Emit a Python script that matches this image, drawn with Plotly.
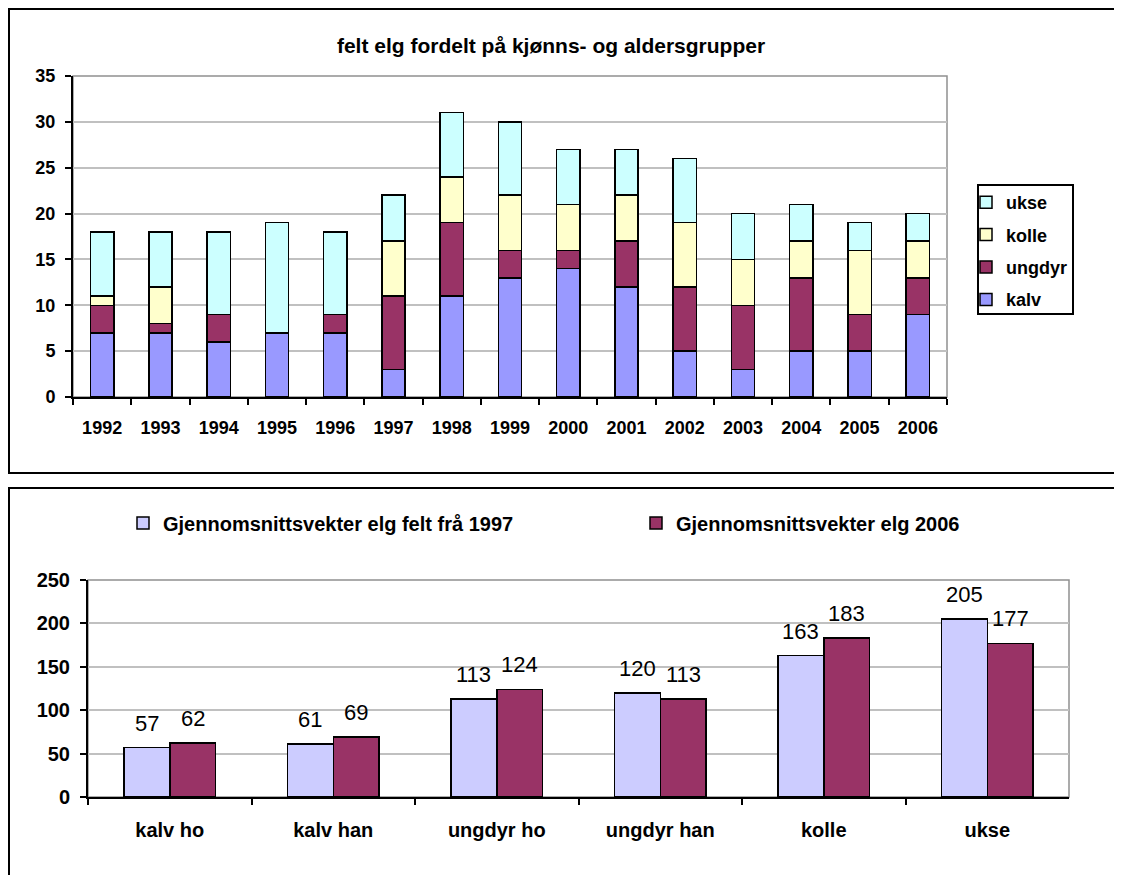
import plotly.graph_objects as go

# ---- data: top chart (stacked counts) ----
years = [str(y) for y in range(1992, 2007)]
kalv = [7, 7, 6, 7, 7, 3, 11, 13, 14, 12, 5, 3, 5, 5, 9]
ungdyr = [3, 1, 3, 0, 2, 8, 8, 3, 2, 5, 7, 7, 8, 4, 4]
kolle = [1, 4, 0, 0, 0, 6, 5, 6, 5, 5, 7, 5, 4, 7, 4]
ukse = [7, 6, 9, 12, 9, 5, 7, 8, 6, 5, 7, 5, 4, 3, 3]

# ---- data: bottom chart (average weights) ----
groups = ["kalv ho", "kalv han", "ungdyr ho", "ungdyr han", "kolle", "ukse"]
w1997 = [57, 61, 113, 120, 163, 205]
w2006 = [62, 69, 124, 113, 183, 177]

# page has an 8px body margin; figure sized to fit the 1122x875 window
OFF = 8
W, H = 1122 - OFF, 875 - OFF
def px(x): return (x - OFF) / W
def py(y): return 1 - (y - OFF) / H

FONT = "Liberation Sans, Arial, sans-serif"
OUT = dict(color="black", width=1.5)

fig = go.Figure()

top_series = [("kalv", kalv, "#9999FF"), ("ungdyr", ungdyr, "#993366"),
              ("kolle", kolle, "#FFFFCC"), ("ukse", ukse, "#CCFFFF")]
n_top = len(top_series)
for i, (name, vals, col) in enumerate(top_series):
    fig.add_trace(go.Bar(x=years, y=vals, name=name, width=0.4, offsetgroup="top",
                         marker=dict(color=col, line=OUT), xaxis="x", yaxis="y",
                         legend="legend", legendgroup=name, legendrank=n_top - i))

fig.add_trace(go.Bar(x=groups, y=w1997, name="Gjennomsnittsvekter elg felt frå 1997",
                     offsetgroup="a", marker=dict(color="#CCCCFF", line=OUT),
                     xaxis="x2", yaxis="y2", legend="legend2"))
fig.add_trace(go.Bar(x=groups, y=w2006, name="Gjennomsnittsvekter elg 2006",
                     offsetgroup="b", marker=dict(color="#993366", line=OUT),
                     xaxis="x2", yaxis="y2", legend="legend3"))

# data labels for bottom chart
barpx = (1069 - 88) / 6 * 0.56 / 2
annotations = []
for vals, sh in ((w1997, -barpx / 2), (w2006, barpx / 2)):
    for g, v in zip(groups, vals):
        annotations.append(dict(x=g, y=v, xref="x2", yref="y2", text=str(v),
                                showarrow=False, xshift=sh, yshift=10, yanchor="bottom",
                                font=dict(family=FONT, size=22, color="black")))

shapes = [
    # outer chart borders
    dict(type="rect", xref="paper", yref="paper", x0=px(9), x1=1.02, y0=py(473), y1=py(9),
         line=dict(color="black", width=2), layer="below"),
    dict(type="rect", xref="paper", yref="paper", x0=px(9), x1=1.02, y0=-0.05, y1=py(488),
         line=dict(color="black", width=2), layer="below"),
    # plot-area frames (grey)
    dict(type="rect", xref="paper", yref="paper", x0=px(73), x1=px(947), y0=py(397), y1=py(76),
         line=dict(color="#909090", width=1.5), layer="below"),
    dict(type="rect", xref="paper", yref="paper", x0=px(88), x1=px(1069), y0=py(797), y1=py(580),
         line=dict(color="#909090", width=1.5), layer="below"),
    # top legend frame
    dict(type="rect", xref="paper", yref="paper", x0=px(978), x1=px(1073), y0=py(314), y1=py(185),
         line=dict(color="black", width=2), fillcolor="white", layer="below"),
]

axis_common = dict(showline=True, linecolor="black", linewidth=2, ticks="outside",
                   ticklen=6, tickwidth=2, tickcolor="black", zeroline=False)

legend_font = dict(family=FONT, size=18, color="black", weight="bold")
legend2_font = dict(family=FONT, size=20, color="black", weight="bold")

fig.update_layout(
    width=W, height=H, autosize=False,
    margin=dict(l=0, r=0, t=0, b=0, autoexpand=False),
    paper_bgcolor="white", plot_bgcolor="white",
    barmode="stack", bargap=0.44, bargroupgap=0,
    font=dict(family=FONT, color="black"),
    title=dict(text="<b>felt elg fordelt på kjønns- og aldersgrupper</b>",
               x=px(551), y=py(46), xref="paper", yref="paper",
               xanchor="center", yanchor="middle",
               font=dict(family=FONT, size=21, color="black")),
    xaxis=dict(domain=[px(73), px(947)], anchor="y", type="category",
               tickson="boundaries", showgrid=False, ticklabelstandoff=13,
               tickfont=dict(family=FONT, size=18, color="black", weight="bold"),
               **axis_common),
    yaxis=dict(domain=[py(397), py(76)], anchor="x", range=[0, 35], dtick=5,
               showgrid=True, gridcolor="#C0C0C0", gridwidth=1.5, ticklabelstandoff=6,
               tickfont=dict(family=FONT, size=18, color="black", weight="bold"),
               **axis_common),
    xaxis2=dict(domain=[px(88), px(1069)], anchor="y2", type="category",
                tickson="boundaries", showgrid=False, ticklabelstandoff=14,
                tickfont=dict(family=FONT, size=20, color="black", weight="bold"),
                **axis_common),
    yaxis2=dict(domain=[py(797), py(580)], anchor="x2", range=[0, 250], dtick=50,
                showgrid=True, gridcolor="#C0C0C0", gridwidth=1.5, ticklabelstandoff=6,
                tickfont=dict(family=FONT, size=20, color="black", weight="bold"),
                **axis_common),
    legend=dict(x=px(966), y=py(184), xanchor="left", yanchor="top",
                traceorder="grouped", bgcolor="rgba(0,0,0,0)", borderwidth=0,
                tracegroupgap=6, font=legend_font),
    legend2=dict(x=px(123), y=py(523), xanchor="left", yanchor="middle",
                 orientation="h", bgcolor="rgba(0,0,0,0)", font=legend2_font),
    legend3=dict(x=px(636), y=py(523), xanchor="left", yanchor="middle",
                 orientation="h", bgcolor="rgba(0,0,0,0)", font=legend2_font),
    annotations=annotations,
    shapes=shapes,
)

fig.write_html("out.html")
